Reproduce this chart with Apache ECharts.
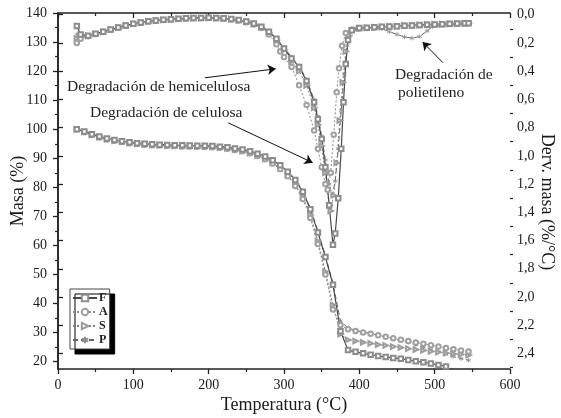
<!DOCTYPE html>
<html>
<head>
<meta charset="utf-8">
<script src="https://cdn.jsdelivr.net/npm/echarts@6/dist/echarts.min.js"></script>
<style>
  html, body { margin: 0; padding: 0; background: #fff; }
  #chart { width: 561px; height: 418px; }
</style>
</head>
<body>
<div id="chart"></div>
<script>
// temperaturas de las curvas TG (°C)
const tgTemp = [25, 35, 45, 55, 65, 75, 85, 95, 105, 115, 125, 135, 145, 155, 165, 175, 185, 195, 205, 215,
  225, 235, 245, 255, 265, 275, 285, 295, 305, 315, 325, 335, 345, 355, 365, 375, 385, 395, 405, 415,
  425, 435, 445, 455, 465, 475, 485, 495, 505, 515, 525, 535, 545];

// masa (%) eje izquierdo
const tgF = [100, 99.2, 98.3, 97.5, 96.8, 96.3, 95.9, 95.5, 95.2, 95.0, 94.8, 94.7, 94.6, 94.5, 94.5, 94.4, 94.3, 94.3, 94.2, 94.0,
  93.8, 93.4, 93.0, 92.4, 91.6, 90.6, 89.3, 87.6, 85.4, 82.5, 78.5, 72.5, 64.5, 56.0, 46.5, 30.5, 24.0, 23.4, 22.9, 22.4,
  22.0, 21.6, 21.3, 21.0, 20.6, 20.2, 19.8, 19.4, 18.9, 18.4, null, null, null];
const tgA = [100, 99.0, 98.0, 97.2, 96.5, 96.0, 95.6, 95.2, 94.9, 94.7, 94.5, 94.4, 94.3, 94.2, 94.1, 94.1, 94.0, 93.9, 93.8, 93.6,
  93.3, 92.9, 92.4, 91.7, 90.8, 89.7, 88.2, 86.3, 83.8, 80.5, 76.0, 69.5, 60.5, 50.0, 38.0, 32.6, 31.2, 30.6, 30.1, 29.6,
  29.1, 28.6, 28.1, 27.6, 27.1, 26.6, 26.2, 25.7, 25.2, 24.7, 24.3, 23.9, 23.5];
const tgS = [100, 99.1, 98.1, 97.3, 96.6, 96.1, 95.7, 95.3, 95.0, 94.8, 94.6, 94.5, 94.4, 94.3, 94.2, 94.2, 94.1, 94.0, 93.9, 93.7,
  93.4, 93.0, 92.5, 91.8, 90.9, 89.8, 88.4, 86.6, 84.2, 81.0, 76.7, 70.5, 61.5, 51.0, 39.5, 29.5, 27.5, 27.1, 26.7, 26.3,
  25.9, 25.6, 25.2, 24.9, 24.5, 24.2, 23.9, 23.6, 23.3, 23.0, 22.7, 22.5, 22.3];
const tgP = [100, 99.2, 98.3, 97.5, 96.8, 96.3, 95.9, 95.5, 95.2, 95.0, 94.8, 94.7, 94.6, 94.5, 94.5, 94.4, 94.3, 94.3, 94.2, 94.0,
  93.8, 93.4, 93.0, 92.4, 91.6, 90.6, 89.4, 87.8, 85.6, 82.8, 78.8, 72.8, 65.0, 56.5, 47.0, 34.0, 31.6, 30.8, 30.2, 29.7,
  29.1, 28.6, 28.0, 27.3, 26.6, 25.8, 25.0, 24.2, 23.4, 22.6, 21.8, 21.1, 20.5];

// derivada (%/°C) eje derecho, [T, dm/dT]
const dtgF = [[25, 0.08], [30, 0.14], [40, 0.15], [50, 0.135], [60, 0.12], [70, 0.105], [80, 0.09], [90, 0.076], [100, 0.064],
  [110, 0.055], [120, 0.047], [130, 0.041], [140, 0.036], [150, 0.032], [160, 0.029], [170, 0.026], [180, 0.024], [190, 0.023],
  [200, 0.022], [210, 0.023], [220, 0.026], [230, 0.031], [240, 0.038], [250, 0.048], [260, 0.062], [270, 0.085], [280, 0.12],
  [290, 0.17], [300, 0.24], [310, 0.31], [320, 0.37], [330, 0.47], [340, 0.62], [345, 0.74], [350, 0.88], [355, 1.08],
  [360, 1.35], [365, 1.63], [368, 1.55], [372, 1.3], [376, 0.95], [379, 0.62], [382, 0.35], [385, 0.18], [390, 0.11],
  [400, 0.095], [410, 0.092], [420, 0.089], [430, 0.086], [440, 0.084], [450, 0.081], [460, 0.078], [470, 0.076],
  [480, 0.073], [490, 0.071], [500, 0.069], [510, 0.067], [520, 0.065], [530, 0.063], [540, 0.061], [545, 0.06]];
const dtgA = [[25, 0.2], [30, 0.17], [40, 0.152], [50, 0.137], [60, 0.122], [70, 0.107], [80, 0.092], [90, 0.078], [100, 0.066],
  [110, 0.057], [120, 0.049], [130, 0.043], [140, 0.038], [150, 0.034], [160, 0.03], [170, 0.027], [180, 0.025], [190, 0.024],
  [200, 0.024], [210, 0.025], [220, 0.028], [230, 0.034], [240, 0.042], [250, 0.053], [260, 0.07], [270, 0.095], [280, 0.14],
  [290, 0.21], [295, 0.26], [300, 0.3], [310, 0.37], [320, 0.5], [330, 0.64], [340, 0.82], [345, 0.95], [350, 1.08],
  [355, 1.2], [358, 1.24], [362, 1.12], [366, 0.85], [370, 0.55], [373, 0.38], [377, 0.22], [382, 0.13], [390, 0.105],
  [400, 0.098], [410, 0.094], [420, 0.091], [430, 0.088], [440, 0.085], [450, 0.082], [460, 0.079], [470, 0.077],
  [480, 0.074], [490, 0.072], [500, 0.07], [510, 0.068], [520, 0.066], [530, 0.064], [540, 0.062], [545, 0.061]];
const dtgS = [[25, 0.17], [30, 0.16], [40, 0.15], [50, 0.136], [60, 0.121], [70, 0.106], [80, 0.091], [90, 0.077], [100, 0.065],
  [110, 0.056], [120, 0.048], [130, 0.042], [140, 0.037], [150, 0.033], [160, 0.03], [170, 0.027], [180, 0.025], [190, 0.024],
  [200, 0.023], [210, 0.024], [220, 0.027], [230, 0.032], [240, 0.04], [250, 0.05], [260, 0.066], [270, 0.09], [280, 0.13],
  [290, 0.18], [300, 0.25], [310, 0.33], [320, 0.4], [330, 0.5], [340, 0.66], [345, 0.78], [350, 0.93], [355, 1.12],
  [360, 1.35], [362, 1.39], [366, 1.28], [370, 1.05], [374, 0.75], [378, 0.48], [382, 0.26], [386, 0.15], [390, 0.115],
  [400, 0.097], [410, 0.093], [420, 0.09], [430, 0.087], [440, 0.084], [450, 0.081], [460, 0.078], [470, 0.076],
  [480, 0.073], [490, 0.071], [500, 0.069], [510, 0.067], [520, 0.065], [530, 0.063], [540, 0.061], [545, 0.06]];
const dtgP = [[25, 0.14], [30, 0.15], [40, 0.149], [50, 0.135], [60, 0.12], [70, 0.105], [80, 0.09], [90, 0.076], [100, 0.064],
  [110, 0.055], [120, 0.047], [130, 0.041], [140, 0.036], [150, 0.032], [160, 0.029], [170, 0.026], [180, 0.024], [190, 0.023],
  [200, 0.022], [210, 0.023], [220, 0.026], [230, 0.031], [240, 0.038], [250, 0.048], [260, 0.062], [270, 0.085], [280, 0.12],
  [290, 0.17], [300, 0.23], [310, 0.3], [320, 0.36], [330, 0.46], [340, 0.6], [345, 0.72], [350, 0.86], [355, 1.03],
  [360, 1.2], [364, 1.28], [368, 1.18], [372, 0.95], [376, 0.68], [380, 0.42], [384, 0.22], [388, 0.13], [395, 0.1],
  [400, 0.096], [410, 0.093], [420, 0.092], [430, 0.1], [440, 0.12], [450, 0.14], [460, 0.158], [470, 0.166],
  [480, 0.155], [490, 0.115], [497, 0.085], [505, 0.075], [515, 0.07], [525, 0.066], [535, 0.063], [545, 0.06]];

const names = ["F", "A", "S", "P"];

// ticks
const massTicks = [20, 30, 40, 50, 60, 70, 80, 90, 100, 110, 120, 130, 140];
const massMinor = [25, 35, 45, 55, 65, 75, 85, 95, 105, 115, 125, 135];
const dervTicks = [0, 0.2, 0.4, 0.6, 0.8, 1.0, 1.2, 1.4, 1.6, 1.8, 2.0, 2.2, 2.4];
const dervMinor = [0.1, 0.3, 0.5, 0.7, 0.9, 1.1, 1.3, 1.5, 1.7, 1.9, 2.1, 2.3, 2.5];

const serif = "'Liberation Serif', 'DejaVu Serif', serif";
const axisCol = "#222";

const styles = {
  F: { line: "#474747", mark: "#8c8c8c", width: 1.2, type: "solid", symbol: "emptyRect", rotate: 0 },
  A: { line: "#8a8a8a", mark: "#a0a0a0", width: 1, type: [2, 2], symbol: "emptyCircle", rotate: 0 },
  S: { line: "#808080", mark: "#9c9c9c", width: 1, type: [2, 2], symbol: "emptyTriangle", rotate: -90 },
  P: { line: "#666", mark: "#8c8c8c", width: 1, type: [5, 3], symbol: "path://M0,-5L0,5M-4.3,-2.5L4.3,2.5M-4.3,2.5L4.3,-2.5", rotate: 0 }
};

const chart = echarts.init(document.getElementById("chart"));

const tgData = { F: tgF, A: tgA, S: tgS, P: tgP };
const dtgData = { F: dtgF, A: dtgA, S: dtgS, P: dtgP };

// F se dibuja al final para quedar encima
const drawOrder = ["P", "S", "A", "F"];
const series = [];
drawOrder.forEach((n) => {
  const st = styles[n];
  const common = {
    name: n,
    type: "line",
    symbol: st.symbol,
    symbolRotate: st.rotate,
    symbolSize: 4.5,
    showAllSymbol: true,
    lineStyle: { color: st.line, width: st.width, type: st.type },
    itemStyle: { color: st.mark, borderColor: st.mark, borderWidth: 0.8 },
    emphasis: { disabled: true },
    animation: false
  };
  series.push(Object.assign({}, common, {
    xAxisIndex: 0,
    yAxisIndex: 0,
    data: tgData[n].map((v, i) => [tgTemp[i], v])
  }));
  series.push(Object.assign({}, common, {
    xAxisIndex: 0,
    yAxisIndex: 1,
    data: dtgData[n]
  }));
});

// flechas de las anotaciones (coordenadas en el eje izquierdo)
series[series.length - 2].markLine = {
  silent: true,
  symbol: ["none", "arrow"],
  symbolSize: 8,
  label: { show: false },
  lineStyle: { color: "#111", width: 1, type: "solid" },
  data: [
    [{ coord: [195, 117.7] }, { coord: [289, 120.8] }],
    [{ coord: [226, 102.2] }, { coord: [338, 88.5] }],
    [{ coord: [511, 122.9] }, { coord: [484, 130.0] }]
  ]
};

const tickLabel = { fontFamily: serif, fontSize: 14, color: "#1a1a1a" };
const titleStyle = { fontFamily: serif, fontSize: 18, color: "#1a1a1a" };

const option = {
  animation: false,
  backgroundColor: "#fff",
  grid: { left: 58, right: 51, top: 13, bottom: 49, containLabel: false, outerBoundsMode: "none" },
  legend: {
    data: names,
    orient: "vertical",
    left: 70,
    top: 289,
    itemWidth: 24,
    itemHeight: 8,
    itemGap: 2,
    padding: [3, 2, 3, 2],
    backgroundColor: "#fff",
    borderColor: "#444",
    borderWidth: 1,
    borderRadius: 0,
    shadowColor: "#000",
    shadowBlur: 0,
    shadowOffsetX: 5,
    shadowOffsetY: 5,
    textStyle: { fontFamily: serif, fontSize: 12, fontWeight: "bold", color: "#222", padding: [0, 0, 0, -3] },
    selectedMode: false
  },
  xAxis: [
    {
      type: "value", position: "bottom", min: 0, max: 600, interval: 100,
      name: "Temperatura (°C)", nameLocation: "middle", nameGap: 27, nameMoveOverlap: false,
      nameTextStyle: titleStyle,
      axisLine: { onZero: false, lineStyle: { color: axisCol, width: 1.5 } },
      axisTick: { length: 5, lineStyle: { color: axisCol, width: 1.3 } },
      minorTick: { show: true, splitNumber: 2, length: 3, lineStyle: { color: axisCol, width: 1.2 } },
      axisLabel: Object.assign({ margin: 9 }, tickLabel),
      splitLine: { show: false }
    },
    {
      type: "value", position: "top", min: 0, max: 600, interval: 100,
      axisLine: { onZero: false, lineStyle: { color: axisCol, width: 1.5 } },
      axisTick: { inside: true, length: 5, lineStyle: { color: axisCol, width: 1.3 } },
      minorTick: { show: true, splitNumber: 2, length: 3, lineStyle: { color: axisCol, width: 1.2 } },
      axisLabel: { show: false },
      splitLine: { show: false }
    }
  ],
  yAxis: [
    {
      type: "value", position: "left", min: 17.5, max: 140,
      name: "Masa (%)", nameLocation: "middle", nameGap: 31, nameMoveOverlap: false,
      nameTextStyle: titleStyle,
      axisLine: { show: true, lineStyle: { color: axisCol, width: 1.5 } },
      axisTick: { show: true, length: 5, customValues: massTicks, lineStyle: { color: axisCol, width: 1.3 } },
      axisLabel: Object.assign({ margin: 11, customValues: massTicks }, tickLabel),
      splitLine: { show: false }
    },
    {
      type: "value", position: "right", inverse: true, min: -0.012, max: 2.51,
      name: "Derv. masa (%/°C)", nameLocation: "middle", nameGap: 28, nameRotate: -90, nameMoveOverlap: false,
      nameTextStyle: Object.assign({ padding: [0, 0, 0, 22] }, titleStyle),
      axisLine: { show: true, lineStyle: { color: axisCol, width: 1.5 } },
      axisTick: { show: true, length: 5, customValues: dervTicks, lineStyle: { color: axisCol, width: 1.3 } },
      axisLabel: Object.assign({
        margin: 7, customValues: dervTicks,
        formatter: (v) => v.toFixed(1).replace(".", ",")
      }, tickLabel),
      splitLine: { show: false }
    },
    {
      type: "value", position: "left", min: 17.5, max: 140,
      axisLine: { show: false },
      axisTick: { show: true, length: 3, customValues: massMinor, lineStyle: { color: axisCol, width: 1.2 } },
      axisLabel: { show: false },
      splitLine: { show: false }
    },
    {
      type: "value", position: "right", inverse: true, min: -0.012, max: 2.51,
      axisLine: { show: false },
      axisTick: { show: true, length: 3, customValues: dervMinor, lineStyle: { color: axisCol, width: 1.2 } },
      axisLabel: { show: false },
      splitLine: { show: false }
    }
  ],
  graphic: [
    { type: "text", left: 67, top: 79, style: { text: "Degradación de hemicelulosa", font: "15.5px " + serif, fill: "#222" } },
    { type: "text", left: 90, top: 105, style: { text: "Degradación de celulosa", font: "15.5px " + serif, fill: "#222" } },
    { type: "text", left: 395, top: 67, style: { text: "Degradación de", font: "15.5px " + serif, fill: "#222" } },
    { type: "text", left: 398, top: 85, style: { text: "polietileno", font: "15.5px " + serif, fill: "#222" } }
  ],
  series: series
};

chart.setOption(option);
</script>
</body>
</html>
